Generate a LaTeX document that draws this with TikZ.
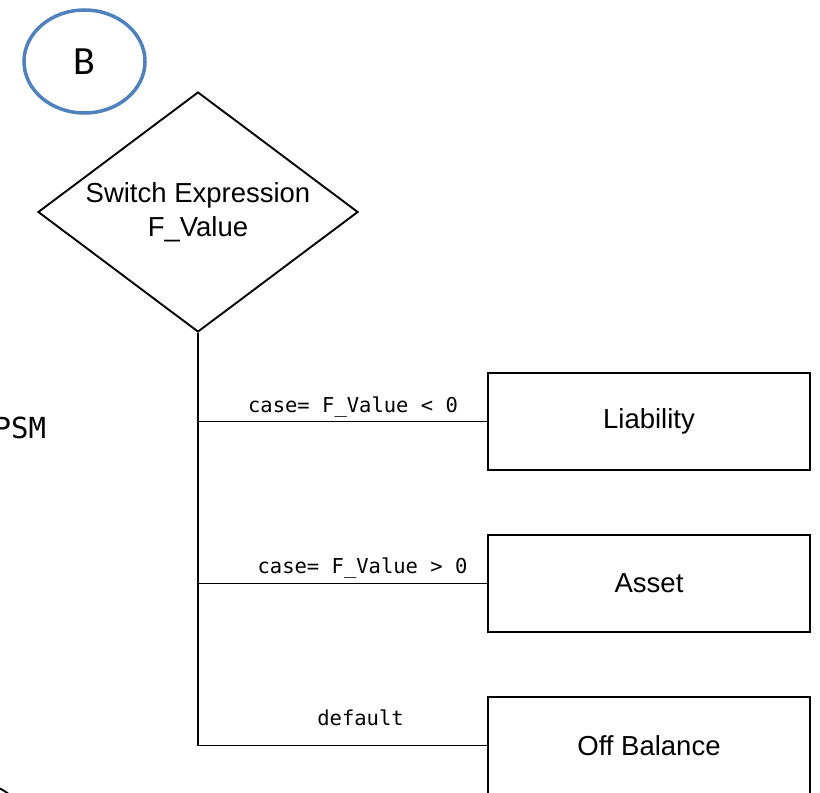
\documentclass[tikz,border=0pt]{standalone}
\usepackage{fontspec}
\setmainfont{Liberation Sans}
\setmonofont{DejaVu Sans Mono}
\newfontfamily\calibrifont{Carlito}
\usepackage{tikz}
\usetikzlibrary{shapes,shapes.geometric,positioning}
\definecolor{connblue}{RGB}{79,129,189}

\begin{document}
\begin{tikzpicture}[line width=1.9bp,
	box/.style={draw, rectangle, minimum width=322bp, minimum height=97bp, inner sep=0pt, font=\fontsize{27.5bp}{32bp}\selectfont},
	cond/.style={draw, diamond, aspect=1.3333, minimum width=320bp, minimum height=240bp, inner sep=0pt, align=center, font=\fontsize{27.5bp}{34bp}\selectfont},
	conn/.style={draw=connblue, ellipse, line width=3.5bp, minimum width=121bp, minimum height=103bp, inner sep=0pt, font=\calibrifont\fontsize{40bp}{48bp}\selectfont},
	lbl/.style={anchor=base, inner sep=0pt, font=\ttfamily\fontsize{20.5bp}{24bp}\selectfont}]
	\useasboundingbox (0bp,0bp) rectangle (820bp,-793bp);
	\clip (0bp,0bp) rectangle (820bp,-793bp);

	\node (B)   at (84.5bp,-61.5bp)  [conn] {B};
	\node (sw)  at (198bp,-212bp)    [cond] {Switch Expression\\F\_Value};
	\node (li)  at (649bp,-421.5bp)  [box]  {Liability};
	\node (as)  at (649bp,-583.5bp)  [box]  {Asset};
	\node (ob)  at (649bp,-745.5bp)  [box]  {Off Balance};
	\node (psm) at (47bp,-438bp) [anchor=base east, inner sep=0pt, font=\ttfamily\fontsize{29bp}{34bp}\selectfont] {PSM};

	% partly visible connector at the lower left
	\draw (-20bp,-830bp) circle (46bp);

	\draw (sw.south) |- (ob.west) node[lbl, pos=0.75, xshift=18bp, yshift=20bp] {default};
	\draw (sw.south |- li.west) -- (li.west) node[lbl, midway, xshift=10.5bp, yshift=9bp] {case= F\_Value < 0};
	\draw (sw.south |- as.west) -- (as.west) node[lbl, midway, xshift=20bp, yshift=10bp] {case= F\_Value > 0};
\end{tikzpicture}
\end{document}
